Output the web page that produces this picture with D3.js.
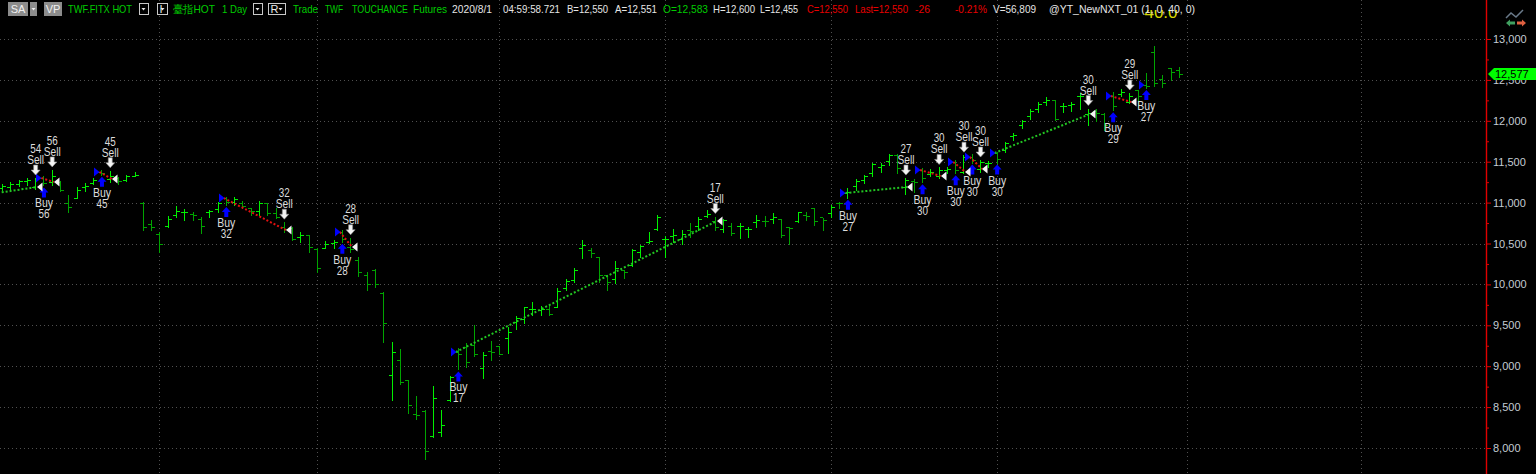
<!DOCTYPE html>
<html lang="zh-Hant">
<head>
<meta charset="UTF-8">
<title>TWF.FITX HOT 1 Day</title>
<script src="https://cdnjs.cloudflare.com/ajax/libs/d3/7.8.5/d3.min.js"></script>
<style>
  body { margin: 0; padding: 0; background: #000; overflow: hidden; }
  svg { display: block; }
  text { font-family: Arial, "Liberation Sans", sans-serif; }
</style>
</head>
<body>
<svg id="chart" width="1536" height="474"></svg>
<script>
  // Daily OHLC bars, index 0 = first visible bar
  const opens = [
    11180,11190,11230,11260,11190,11300,11250,11250,11000,11060,
    11190,11240,11370,11290,11300,11280,11330,10990,10740,10620,
    10720,10850,10880,10860,10800,10880,10920,11060,11010,11000,
    10930,10900,10990,10870,10700,10690,10580,10600,10430,10450,
    10510,10640,10460,10300,10120,10180,9900,8890,9080,8830,
    8420,8450,8150,8190,8590,9174,9230,9260,8980,9180,
    9250,9340,9540,9580,9700,9690,9700,9720,9960,10050,
    10440,10420,10330,10120,10070,10180,10240,10400,10520,10680,
    10560,10590,10560,10660,10720,10840,10775,10680,10720,10710,
    10680,10760,10780,10800,10800,10700,10780,10850,10940,10820,
    10870,11000,11117,11200,11280,11360,11430,11510,11580,11191,
    11260,11400,11350,11325,11400,11496,11374,11557,11411,11490,
    11606,11640,11820,11950,12060,12140,12230,12250,12180,12190,
    12300,12083,12120,12080,12303,12330,12230,12380,12438,12840,
    12510,12640,12620
  ];
  const highs = [
    11230,11250,11280,11300,11300,11330,11400,11260,11090,11190,
    11240,11300,11400,11390,11310,11340,11370,11010,10790,10640,
    10840,10960,10920,10890,10820,10910,11010,11070,11070,11020,
    10940,11020,10990,10930,10760,10700,10640,10600,10440,10530,
    10540,10660,10570,10330,10150,10190,9910,9300,9210,8830,
    8640,8470,8760,8460,8880,9220,9280,9500,9170,9310,
    9250,9480,9610,9720,9780,9730,9730,9950,10060,10200,
    10540,10440,10340,10120,10280,10180,10430,10480,10640,10850,
    10590,10680,10660,10750,10830,10910,10830,10800,10750,10750,
    10700,10850,10840,10870,10800,10700,10890,10890,10940,10810,
    10970,11010,11180,11290,11340,11480,11490,11590,11600,11300,
    11290,11420,11410,11430,11430,11520,11580,11600,11520,11510,
    11620,11740,11850,12010,12150,12230,12290,12250,12220,12230,
    12340,12150,12150,12090,12350,12390,12340,12380,12580,12920,
    12560,12650,12660
  ];
  const lows = [
    11150,11160,11200,11220,11170,11210,11220,11140,10890,11060,
    11140,11230,11340,11250,11230,11260,11320,10670,10660,10400,
    10700,10820,10790,10790,10630,10820,10880,10970,10970,10930,
    10850,10850,10850,10810,10640,10540,10520,10400,10150,10440,
    10450,10520,10400,10100,9930,9970,9300,8590,8780,8430,
    8350,7870,8130,8150,8580,8960,8990,9130,8850,9080,
    9150,9160,9460,9530,9620,9620,9620,9720,9930,10030,
    10320,10330,10030,9930,10020,10080,10230,10330,10510,10660,
    10340,10520,10490,10580,10660,10820,10660,10640,10600,10570,
    10580,10700,10720,10750,10580,10500,10760,10790,10730,10660,
    10820,10930,11060,11160,11240,11330,11380,11460,11360,11100,
    11130,11250,11330,11300,11360,11360,11360,11490,11370,11430,
    11490,11620,11760,11910,12020,12110,12190,12010,12110,12120,
    12150,11950,12000,11890,12130,12300,12220,12170,12400,12420,
    12410,12500,12530
  ];
  const closes = [
    11200,11230,11260,11280,11290,11240,11330,11150,10950,11150,
    11200,11280,11360,11330,11260,11320,11340,10700,10700,10500,
    10800,10900,10880,10850,10720,10900,10990,11010,11040,10960,
    10900,10990,10870,10830,10680,10560,10600,10460,10200,10500,
    10520,10560,10430,10150,10000,10000,9530,9170,8810,8530,
    8400,7960,8610,8280,8870,9150,9050,9150,9140,9170,
    9150,9420,9590,9720,9700,9700,9640,9920,10040,10180,
    10480,10380,10120,10030,10200,10150,10420,10470,10530,10830,
    10560,10600,10620,10650,10800,10860,10700,10790,10630,10720,
    10680,10790,10770,10830,10600,10690,10880,10840,10770,10790,
    10950,10990,11130,11270,11320,11470,11460,11580,11420,11280,
    11250,11300,11380,11400,11410,11400,11560,11520,11500,11490,
    11530,11730,11830,12000,12120,12200,12260,12020,12180,12200,
    12300,12100,12100,11950,12180,12350,12300,12300,12430,12460,
    12460,12600,12577
  ];

  // Strategy trades: bar index and price of each entry / exit
  const entryIdx    = [-6, 5, 12, 27, 41, 55, 102, 111, 115, 117, 120, 134, 138];
  const entryPrice  = [11030, 11301, 11374, 11056, 10641, 9174, 11117, 11399, 11496, 11557, 11606, 12303, 12438];
  const entryLabel  = [null, "56", "45", "32", "28", "17", "27", "30", "30", "30", "30", "29", "27"];
  const exitIdx     = [4, 6, 13, 34, 42, 86, 109, 113, 116, 118, 131, 136, null];
  const exitPrice   = [11191, 11252, 11289, 10665, 10457, 10775, 11191, 11325, 11374, 11411, 12083, 12230, null];
  const exitLabel   = ["54", "56", "45", "32", "28", "17", "27", "30", "30", "30", "30", "29", null];

  // price axis and month separators
  const majorTicks = d3.range(8000, 13001, 500);
  const minorTicks = d3.range(8250, 13001, 500);
  const monthStarts = [19, 38, 60, 80, 100, 120, 143, 164];
  const lastPrice = 12577;

  const W = 1536, H = 474, axisX = 1486;
  const upColor = "#00f000", downColor = "#00a400";

  const svg = d3.select("#chart");
  svg.append("rect").attr("width", W).attr("height", H).attr("fill", "#000");

  const x = d3.scaleLinear().domain([0, 142]).range([2, 1179]);
  const y = d3.scaleLinear().domain([8000, 13000]).range([448, 39]);
  const px = v => Math.round(v) + 0.5;

  svg.append("clipPath").attr("id", "plotClip")
    .append("rect").attr("x", 0).attr("y", 18).attr("width", axisX - 1).attr("height", H - 18);
  svg.append("clipPath").attr("id", "topClip")
    .append("rect").attr("x", 0).attr("y", 10).attr("width", axisX - 1).attr("height", H);

  // grid
  const gridH = svg.append("g").attr("stroke", "#505050").attr("stroke-dasharray", "1,3");
  gridH.selectAll("line").data(majorTicks).join("line")
    .attr("x1", 0).attr("x2", axisX - 1)
    .attr("y1", d => px(y(d))).attr("y2", d => px(y(d)));
  const gridV = svg.append("g").attr("stroke", "#505050").attr("stroke-dasharray", "1,3");
  gridV.selectAll("line").data(monthStarts.filter(i => x(i) < axisX)).join("line")
    .attr("x1", d => px(x(d))).attr("x2", d => px(x(d)))
    .attr("y1", 0).attr("y2", H);

  // yellow indicator value peeking out under the header
  svg.append("text").attr("x", 1161).attr("y", 18).attr("text-anchor", "middle")
    .attr("font-size", 17).attr("fill", "#d8d800").attr("clip-path", "url(#topClip)")
    .text("40.0");

  // OHLC bars
  const idx = d3.range(opens.length);
  const colorOf = i => closes[i] >= opens[i] ? upColor : downColor;
  const bars = svg.append("g").attr("clip-path", "url(#plotClip)")
    .attr("shape-rendering", "crispEdges").attr("stroke-width", 1);
  bars.selectAll("line.hl").data(idx).join("line").attr("class", "hl")
    .attr("x1", i => px(x(i))).attr("x2", i => px(x(i)))
    .attr("y1", i => Math.round(y(highs[i]))).attr("y2", i => Math.round(y(lows[i])) + 1)
    .attr("stroke", colorOf);
  bars.selectAll("line.op").data(idx).join("line").attr("class", "op")
    .attr("x1", i => Math.round(x(i)) - 3).attr("x2", i => Math.round(x(i)))
    .attr("y1", i => px(y(opens[i]))).attr("y2", i => px(y(opens[i])))
    .attr("stroke", colorOf);
  bars.selectAll("line.cl").data(idx).join("line").attr("class", "cl")
    .attr("x1", i => Math.round(x(i)) + 1).attr("x2", i => Math.round(x(i)) + 4)
    .attr("y1", i => px(y(closes[i]))).attr("y2", i => px(y(closes[i])))
    .attr("stroke", colorOf);

  // trades
  const trades = entryIdx.map((e, k) => ({
    e, ep: entryPrice[k], el: entryLabel[k],
    x: exitIdx[k], xp: exitPrice[k], xl: exitLabel[k]
  }));
  const tradeG = svg.append("g").attr("clip-path", "url(#plotClip)");
  tradeG.selectAll("line.trade").data(trades.filter(t => t.x !== null)).join("line")
    .attr("class", "trade")
    .attr("x1", t => x(t.e) - 2).attr("y1", t => y(t.ep))
    .attr("x2", t => x(t.x) + 2).attr("y2", t => y(t.xp))
    .attr("stroke", t => t.xp >= t.ep ? "#22c422" : "#e41010")
    .attr("stroke-width", 2).attr("stroke-dasharray", "2,2");

  const buys = trades.filter(t => t.e >= 0);
  const sells = trades.filter(t => t.x !== null);

  // entry: blue triangle at price, blue up arrow below the bar, "Buy" + size
  tradeG.selectAll("path.etri").data(buys).join("path").attr("class", "etri")
    .attr("d", t => { const cx = Math.round(x(t.e)), cy = y(t.ep);
      return `M${cx - 7},${cy - 4.5}L${cx - 1.5},${cy}L${cx - 7},${cy + 4.5}Z`; })
    .attr("fill", "#0000ff");
  const upArrow = "M0,-5L4.5,0L2,0L2,5L-2,5L-2,0L-4.5,0Z";
  tradeG.selectAll("path.earr").data(buys).join("path").attr("class", "earr")
    .attr("transform", t => `translate(${x(t.e) + 0.5},${y(lows[t.e]) + 7})`)
    .attr("d", upArrow).attr("fill", "#0000ff");
  const buyText = tradeG.selectAll("text.buy").data(buys).join("text").attr("class", "buy")
    .attr("text-anchor", "middle").attr("font-size", 12).attr("fill", "#dcdcdc");
  buyText.append("tspan").attr("x", t => x(t.e) + 0.5).attr("y", t => y(lows[t.e]) + 22)
    .attr("textLength", 18).attr("lengthAdjust", "spacingAndGlyphs").text("Buy");
  buyText.append("tspan").attr("x", t => x(t.e) + 0.5).attr("y", t => y(lows[t.e]) + 33)
    .attr("textLength", 11).attr("lengthAdjust", "spacingAndGlyphs").text(t => t.el);

  // exit: white triangle at price, white down arrow above the bar, size + "Sell"
  tradeG.selectAll("path.xtri").data(sells).join("path").attr("class", "xtri")
    .attr("d", t => { const cx = Math.round(x(t.x)), cy = y(t.xp);
      return `M${cx + 7.5},${cy - 4.5}L${cx + 2},${cy}L${cx + 7.5},${cy + 4.5}Z`; })
    .attr("fill", "#f4f4f4");
  const downArrow = "M0,5L4.5,0L2,0L2,-5L-2,-5L-2,0L-4.5,0Z";
  tradeG.selectAll("path.xarr").data(sells).join("path").attr("class", "xarr")
    .attr("transform", t => `translate(${x(t.x) + 0.5},${y(highs[t.x]) - 8})`)
    .attr("d", downArrow).attr("fill", "#f4f4f4").attr("stroke", "#909090").attr("stroke-width", 0.6);
  const sellText = tradeG.selectAll("text.sell").data(sells).join("text").attr("class", "sell")
    .attr("text-anchor", "middle").attr("font-size", 12).attr("fill", "#dcdcdc");
  sellText.append("tspan").attr("x", t => x(t.x) + 0.5).attr("y", t => y(highs[t.x]) - 25)
    .attr("textLength", 11).attr("lengthAdjust", "spacingAndGlyphs").text(t => t.xl);
  sellText.append("tspan").attr("x", t => x(t.x) + 0.5).attr("y", t => y(highs[t.x]) - 14)
    .attr("textLength", 17).attr("lengthAdjust", "spacingAndGlyphs").text("Sell");

  // price axis
  svg.append("line").attr("x1", axisX + 0.5).attr("x2", axisX + 0.5).attr("y1", 0).attr("y2", H)
    .attr("stroke", "#e00000").attr("stroke-width", 1.4);
  const axisG = svg.append("g").attr("transform", `translate(${axisX},0)`)
    .call(d3.axisRight(y).tickValues(majorTicks).tickSize(5).tickPadding(2).tickFormat(d3.format(",")));
  axisG.select(".domain").remove();
  axisG.selectAll(".tick line").attr("stroke", "#e00000");
  axisG.selectAll(".tick text").attr("fill", "#c4ccd4").attr("font-size", 11)
    .attr("font-family", "Arial, 'Liberation Sans', sans-serif");
  const minorG = svg.append("g").attr("transform", `translate(${axisX},0)`)
    .call(d3.axisRight(y).tickValues(minorTicks).tickSize(3).tickFormat(""));
  minorG.select(".domain").remove();
  minorG.selectAll(".tick line").attr("stroke", "#e00000");

  // last price marker (covers the upper half of the 12,500 label, as in the original)
  const ly = Math.round(y(lastPrice));
  svg.append("path")
    .attr("d", `M${axisX + 2},${ly}L${axisX + 8},${ly - 6}L${W},${ly - 6}L${W},${ly + 6}L${axisX + 8},${ly + 6}Z`)
    .attr("fill", "#00ff00");
  svg.append("text").attr("x", axisX + 9).attr("y", ly + 4).attr("font-size", 11).attr("fill", "#000")
    .text(d3.format(",")(lastPrice));

  // small chart icon top right
  const icon = svg.append("g").attr("transform", "translate(1506,10)");
  icon.append("polyline").attr("points", "0,8 5,3 10,7 17,0")
    .attr("fill", "none").attr("stroke", "#6a7a8a").attr("stroke-width", 1.5);
  icon.append("path").attr("d", "M0,13L4,9.5L4,11.5L9,11.5L9,14.5L4,14.5L4,16.5Z").attr("fill", "#40a060");
  icon.append("path").attr("d", "M20,13L16,9.5L16,11.5L11,11.5L11,14.5L16,14.5L16,16.5Z").attr("fill", "#e06040");

  // header bar
  const hdr = svg.append("g").attr("font-size", 11);
  const grayBoxes = [[8, 20, "SA"], [30, 7, ""], [44, 18, "VP"]];
  grayBoxes.forEach(([bx, bw, t]) => {
    hdr.append("rect").attr("x", bx).attr("y", 2).attr("width", bw).attr("height", 14).attr("fill", "#8c8c8c");
    if (t) hdr.append("text").attr("x", bx + bw / 2).attr("y", 13).attr("text-anchor", "middle")
      .attr("fill", "#f0f0f0").text(t);
  });
  hdr.append("path").attr("d", "M31.5,8L35.5,8L33.5,10.5Z").attr("fill", "#f0f0f0");
  const ddBoxes = [[139, 9, ""], [157, 10, "I"], [253, 9, ""], [268, 17, "R"]];
  ddBoxes.forEach(([bx, bw, t]) => {
    hdr.append("rect").attr("x", bx + 0.5).attr("y", 3.5).attr("width", bw).attr("height", 11)
      .attr("fill", "#000").attr("stroke", "#c8c8c8");
    if (t) hdr.append("text").attr("x", bx + 2.5).attr("y", 13).attr("fill", "#e8e8e8").text(t);
    const ax = bx + bw - 4.5;
    hdr.append("path").attr("d", `M${ax - 2},8L${ax + 2},8L${ax},10.5Z`).attr("fill", "#e8e8e8");
  });
  const G = "#00cc00", Wt = "#e6e6e6", R = "#e80000";
  // [x, text, colour, width in the original]
  const headerItems = [
    [68, "TWF.FITX HOT", G, 64], [173, "臺指HOT", G, 42], [222, "1 Day", G, 25],
    [293, "Trade", G, 25], [325, "TWF", G, 18], [352, "TOUCHANCE", G, 56], [413, "Futures", G, 34],
    [452, "2020/8/1", Wt, 40], [503, "04:59:58.721", Wt, 57], [567, "B=12,550", Wt, 41],
    [615, "A=12,551", Wt, 42], [663, "O=12,583", G, 45], [713, "H=12,600", Wt, 42],
    [760, "L=12,455", Wt, 38], [807, "C=12,550", R, 41], [855, "Last=12,550", R, 53],
    [915, "-26", R, 15], [955, "-0.21%", R, 32], [993, "V=56,809", Wt, 43],
    [1049, "@YT_NewNXT_01 (1,  0,  40,  0)", Wt, 146]
  ];
  hdr.selectAll("text.h").data(headerItems).join("text").attr("class", "h")
    .attr("x", d => d[0]).attr("y", 13).attr("fill", d => d[2])
    .attr("textLength", d => d[3]).attr("lengthAdjust", "spacingAndGlyphs")
    .attr("font-family", d => d[1].includes("臺") ? "'Noto Sans CJK TC', Arial, sans-serif" : null)
    .text(d => d[1]);
</script>
</body>
</html>
